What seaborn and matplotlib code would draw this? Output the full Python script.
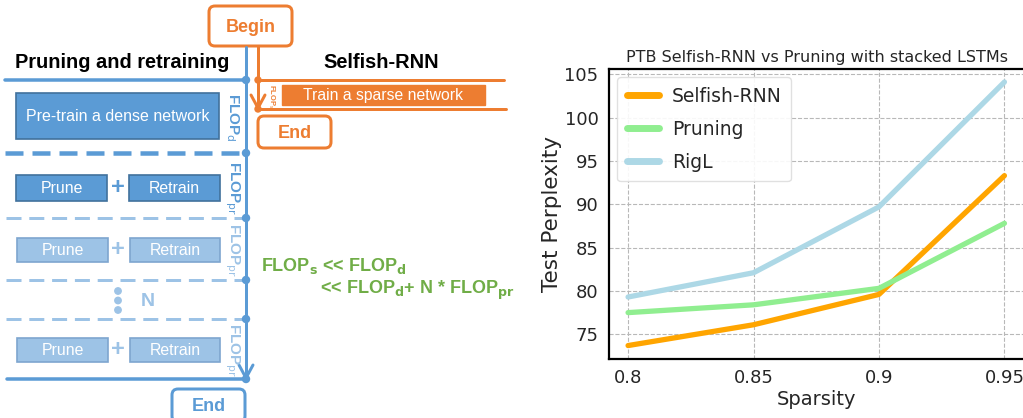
import matplotlib
matplotlib.use("Agg")
import matplotlib.pyplot as plt
from matplotlib import font_manager
from matplotlib.patches import FancyBboxPatch, Rectangle, Circle
import pandas as pd
import seaborn as sns

# ---- data -------------------------------------------------------------
sparsity = [0.8, 0.85, 0.9, 0.95]
selfish_rnn = [73.7, 76.1, 79.6, 93.3]
pruning = [77.5, 78.4, 80.3, 87.8]
rigl = [79.3, 82.1, 89.7, 104.1]
methods = ["Selfish-RNN", "Pruning", "RigL"]
method_colors = ["orange", "lightgreen", "lightblue"]
x_ticks = [0.8, 0.85, 0.9, 0.95]
x_tick_labels = ["0.8", "0.85", "0.9", "0.95"]
y_ticks = [75, 80, 85, 90, 95, 100, 105]

# ---- fonts ------------------------------------------------------------
def pick_font(candidates):
    available = {f.name for f in font_manager.fontManager.ttflist}
    for name in candidates:
        if name in available:
            return name
    return "DejaVu Sans"

diagram_font = pick_font(["Liberation Sans Narrow", "Liberation Sans", "Arial"])

sns.set_style("whitegrid", {"grid.linestyle": "--", "grid.color": "#b8b8b8",
                            "axes.edgecolor": "black"})
plt.rcParams["font.family"] = ["DejaVu Sans"]

fig = plt.figure(figsize=(10.23, 4.18), dpi=100)

# ---- left: workflow diagram (pixel-like coordinates) -----------------
ax_d = fig.add_axes([0, 0, 520 / 1023, 1])
ax_d.set_xlim(0, 520)
ax_d.set_ylim(418, 0)
ax_d.axis("off")

BLUE = "#5B9BD5"
BLUE_EDGE = "#41719C"
LBLUE = "#9DC3E6"
LBLUE_EDGE = "#7EA6CF"
ORANGE = "#ED7D31"
GREEN = "#70AD47"
PX = 0.72  # points per pixel

def dfont(size, weight="normal"):
    return dict(family=diagram_font, fontsize=size, fontweight=weight)

def box(x0, y0, x1, y1, fc, ec, text, tc="white", size=11.4, weight="normal"):
    ax_d.add_patch(Rectangle((x0, y0), x1 - x0, y1 - y0, fc=fc, ec=ec, lw=1.2))
    ax_d.text((x0 + x1) / 2, (y0 + y1) / 2 + 0.5, text, color=tc, ha="center",
              va="center", **dfont(size, weight))

def rbox(x0, y0, x1, y1, ec, text, size=13):
    ax_d.add_patch(FancyBboxPatch((x0, y0), x1 - x0, y1 - y0,
                                  boxstyle="round,pad=0,rounding_size=6",
                                  fc="white", ec=ec, lw=3 * PX, clip_on=False))
    ax_d.text((x0 + x1) / 2, (y0 + y1) / 2 + 1, text, color=ec, ha="center",
              va="center", **dfont(size, "bold"))

def dot(x, y, c, r=3.5):
    ax_d.add_patch(Circle((x, y), r, fc=c, ec=c, zorder=5))

def vee(x, y, c, w=7, h=12, lw=3):
    ax_d.plot([x - w, x, x + w], [y - h, y, y - h], color=c, lw=lw * PX,
              solid_capstyle="round", solid_joinstyle="miter")

# headings
ax_d.text(122, 63, "Pruning and retraining", ha="center", va="center",
          color="black", **dfont(14.4, "bold"))
ax_d.text(381, 63, "Selfish-RNN", ha="center", va="center", color="black",
          **dfont(14.4, "bold"))

# orange: Selfish-RNN path
rbox(209, 6, 292, 46, ORANGE, "Begin")
ax_d.plot([258, 258], [46, 109], color=ORANGE, lw=3 * PX)
vee(258, 108, ORANGE, w=7, h=13)
ax_d.plot([258, 504], [80, 80], color=ORANGE, lw=3 * PX)
ax_d.plot([258, 506], [109, 109], color=ORANGE, lw=3 * PX)
dot(258, 80, ORANGE, 3)
dot(258, 109, ORANGE, 3)
ax_d.add_patch(Rectangle((282, 85), 203, 20, fc=ORANGE, ec=ORANGE))
ax_d.text(383, 95.5, "Train a sparse network", color="white", ha="center",
          va="center", **dfont(11.3))
ax_d.text(271, 96, r"FLOP$_\mathrm{s}$", color=ORANGE, rotation=-90,
          ha="center", va="center", **dfont(5.5, "bold"))
rbox(258, 116, 331, 148, ORANGE, "End")

# blue: pruning and retraining path
ax_d.plot([246, 246], [47, 379], color=BLUE, lw=3 * PX)
vee(246, 378, BLUE, w=7, h=13)
ax_d.plot([5, 246], [80, 80], color=BLUE, lw=3.5 * PX)
dot(246, 80, BLUE)
box(16, 93, 219, 139, BLUE, BLUE_EDGE, "Pre-train a dense network", size=11.5)
ax_d.text(232, 117, r"FLOP$_\mathrm{d}$", color=BLUE, rotation=-90,
          ha="center", va="center", **dfont(11, "bold"))

ax_d.plot([5, 246], [153, 153], color=BLUE, lw=4.5 * PX, dashes=(4, 2))
dot(246, 153, BLUE)
box(16, 175, 107, 201, BLUE, BLUE_EDGE, "Prune")
box(129, 175, 220, 201, BLUE, BLUE_EDGE, "Retrain")
ax_d.text(118, 188, "+", color=BLUE, ha="center", va="center",
          **dfont(17, "bold"))
ax_d.text(232, 188, r"FLOP$_\mathrm{pr}$", color=BLUE, rotation=-90,
          ha="center", va="center", **dfont(11, "bold"))

for yy in (218, 280, 319):
    ax_d.plot([6, 246], [yy, yy], color=LBLUE, lw=3 * PX, dashes=(5, 2.6))
    dot(246, yy, BLUE)
for y0 in (238, 338):
    box(17, y0, 108, y0 + 24, LBLUE, LBLUE_EDGE, "Prune")
    box(130, y0, 220, y0 + 24, LBLUE, LBLUE_EDGE, "Retrain")
    ax_d.text(118, y0 + 12, "+", color=LBLUE, ha="center", va="center",
              **dfont(17, "bold"))
    ax_d.text(232, y0 + 12, r"FLOP$_\mathrm{pr}$", color=LBLUE, rotation=-90,
              ha="center", va="center", **dfont(11, "bold"))
for yy in (291, 300.5, 310):
    dot(118, yy, LBLUE, 3.2)
ax_d.text(148, 302, "N", color=LBLUE, ha="center", va="center",
          **dfont(14, "bold"))

ax_d.plot([7, 246], [379, 379], color=BLUE, lw=3.5 * PX)
dot(246, 379, BLUE)
rbox(172, 389, 245, 422, BLUE, "End")

# FLOP comparison
ax_d.text(261, 266, r"FLOP$_\mathbf{s}$ << FLOP$_\mathbf{d}$", color=GREEN,
          ha="left", va="center", **dfont(13, "bold"))
ax_d.text(320, 290, r"<< FLOP$_\mathbf{d}$+ N * FLOP$_\mathbf{pr}$",
          color=GREEN, ha="left", va="center", **dfont(13, "bold"))

# ---- right: perplexity vs sparsity -----------------------------------
df = pd.DataFrame({
    "Sparsity": sparsity * 3,
    "Test Perplexity": selfish_rnn + pruning + rigl,
    "Method": [m for m in methods for _ in sparsity],
})

ax = fig.add_axes([609 / 1023, 59 / 418, 415 / 1023, 290 / 418])
sns.lineplot(data=df, x="Sparsity", y="Test Perplexity", hue="Method",
             hue_order=methods, palette=method_colors, linewidth=3.8, ax=ax)

ax.set_xlim(0.7924, 0.9578)
ax.set_ylim(72.15, 105.6)
ax.set_xticks(x_ticks)
ax.set_xticklabels(x_tick_labels)
ax.set_yticks(y_ticks)
ax.tick_params(labelsize=13, pad=4)
ax.set_xlabel("Sparsity", fontsize=14, labelpad=2)
ax.set_ylabel("Test Perplexity", fontsize=15.5, labelpad=1.5)
ax.set_title("PTB Selfish-RNN vs Pruning with stacked LSTMs", fontsize=11.5,
             pad=5)
for side in ("left", "bottom", "top"):
    ax.spines[side].set_color("black")
    ax.spines[side].set_linewidth(1.6)
ax.spines["right"].set_visible(False)

handles, labels = ax.get_legend_handles_labels()
for h in handles:
    h.set_linewidth(5)
ax.legend(handles, labels, loc="upper left", fontsize=13.5, frameon=True,
          handlelength=1.7, handletextpad=0.7, borderaxespad=0.45,
          labelspacing=0.75, borderpad=0.5, framealpha=0.9,
          edgecolor="#dddddd")

fig.savefig("out.png", dpi=100)
